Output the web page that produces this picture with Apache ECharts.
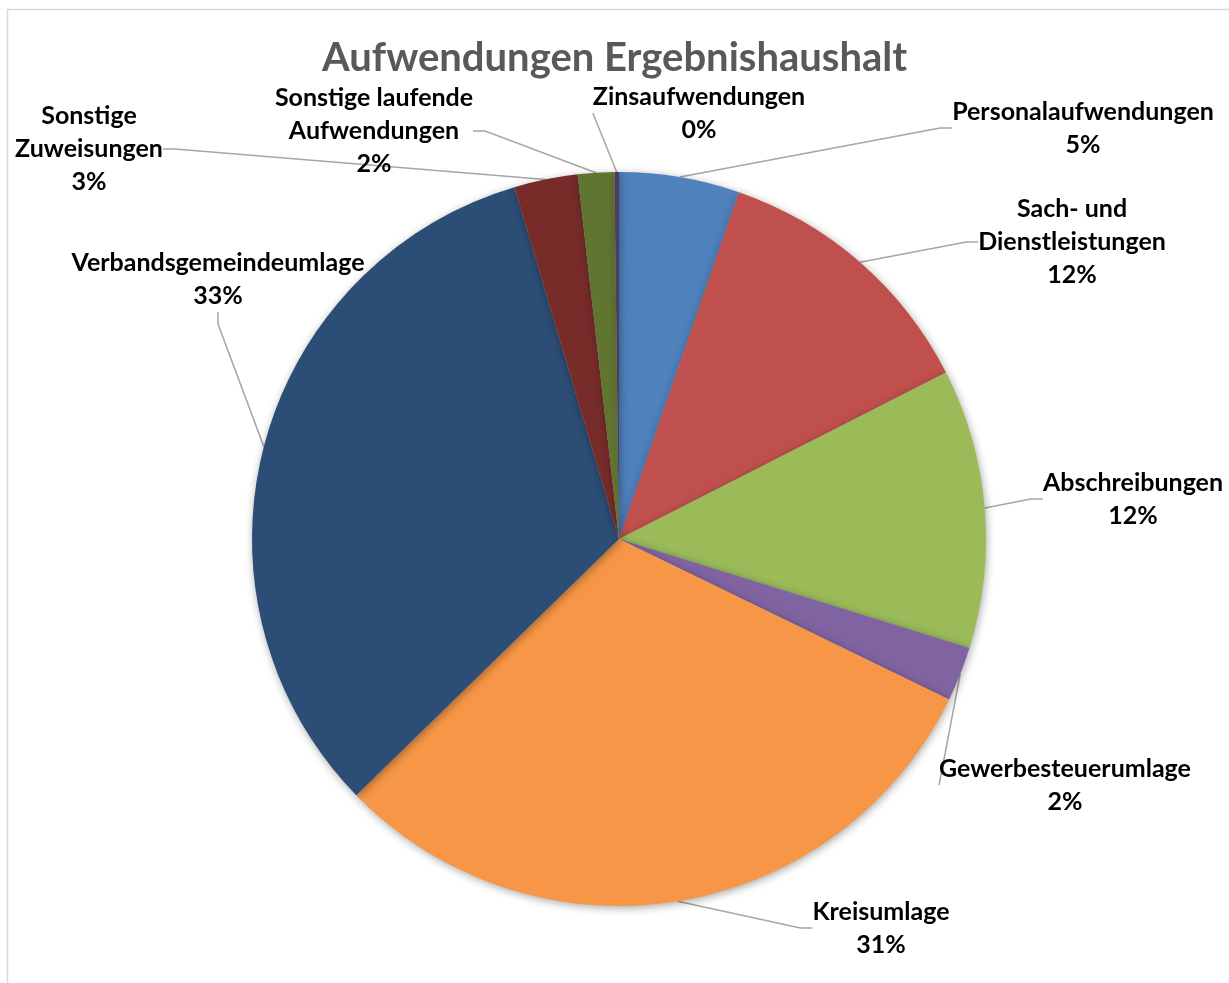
<!DOCTYPE html>
<html>
<head>
<meta charset="utf-8">
<script src="https://cdn.jsdelivr.net/npm/echarts@6/dist/echarts.min.js"></script>
<style>html,body{margin:0;padding:0;background:#fff}#c{width:1229px;height:983px}</style>
</head>
<body>
<div id="c"></div>
<script>
const title = 'Aufwendungen Ergebnishaushalt';
const categories = ['Personalaufwendungen', 'Sach- und\nDienstleistungen', 'Abschreibungen', 'Gewerbesteuerumlage', 'Kreisumlage', 'Verbandsgemeindeumlage', 'Sonstige\nZuweisungen', 'Sonstige laufende\nAufwendungen', 'Zinsaufwendungen'];
const values = [5.3, 12.2, 12.3, 2.4, 30.5, 32.7, 2.8, 1.6, 0.2];
const colors = ['#4F81BD', '#C0504D', '#9BBB59', '#8064A2', '#F79646', '#2C4D75', '#772C2A', '#5F7530', '#4D3B62'];

const total = values.reduce((a, b) => a + b, 0);
// label block centres (layout)
const labelPos = [[1083, 128], [1072, 242], [1133, 499], [1065, 785], [881, 928], [218, 279], [89, 149], [374, 131], [699, 113]];

const chart = echarts.init(document.getElementById('c'), null, {renderer: 'canvas'});
chart.setOption({
  backgroundColor: '#fff',
  animation: false,
  title: {
    text: title, left: 'center', top: 33,
    textStyle: {fontFamily: 'Lato', fontWeight: 'bold', fontSize: 40, color: '#595959'}
  },
  graphic: [{type: 'rect', shape: {x: 7.5, y: 9.5, width: 1260, height: 1000}, style: {fill: 'none', stroke: '#d9d9d9', lineWidth: 1.5}, silent: true}],
  series: [{
    type: 'pie',
    center: [619, 539],
    radius: 367,
    startAngle: 90,
    clockwise: true,
    data: categories.map((c, i) => ({name: c, value: values[i], itemStyle: {color: colors[i]}})),
    itemStyle: {shadowBlur: 8, shadowColor: 'rgba(0,0,0,0.35)', shadowOffsetX: 1, shadowOffsetY: 2},
    label: {
      show: true,
      formatter: p => p.name + '\n' + Math.round(p.value / total * 100) + '%',
      fontFamily: 'Lato', fontWeight: 'bold', fontSize: 25, color: '#000', lineHeight: 33, align: 'center',
      overflow: 'none', edgeDistance: 0
    },
    labelLine: {show: true, length: 20, length2: 12, lineStyle: {color: '#a6a6a6', width: 1.5}},
    labelLayout: function (p) {
      const q = labelPos[p.dataIndex];
      return {x: q[0], y: q[1], align: 'center', verticalAlign: 'middle'};
    },
    emphasis: {disabled: true}
  }]
});
</script>
</body>
</html>
